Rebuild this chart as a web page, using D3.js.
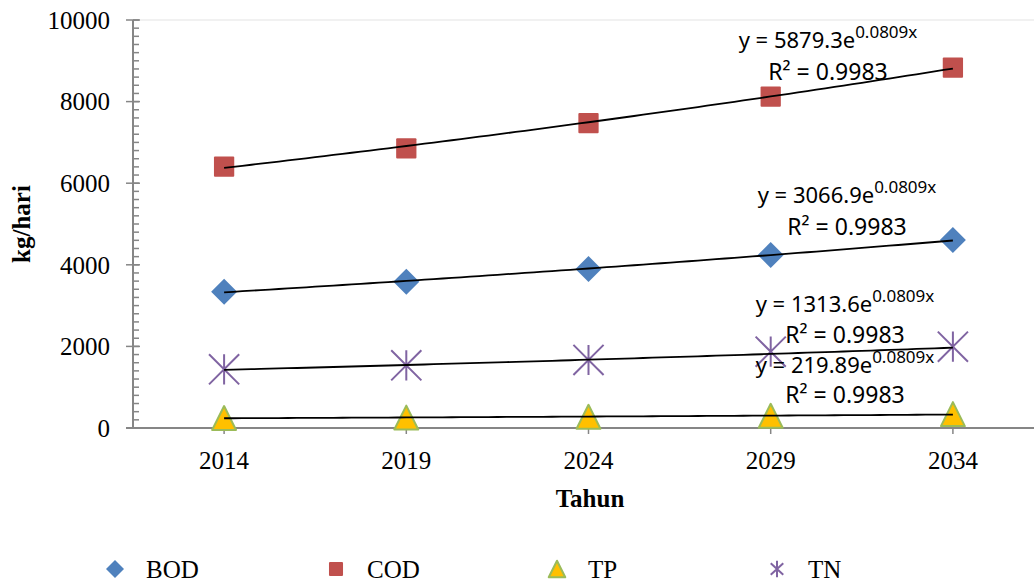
<!DOCTYPE html>
<html>
<head>
<meta charset="utf-8">
<script src="https://cdn.jsdelivr.net/npm/d3@7"></script>
<style>
  html, body { margin: 0; padding: 0; background: #fff; }
  svg { display: block; }
</style>
</head>
<body>
<svg id="chart" width="1034" height="582"></svg>
<script>
// Pollutant load projections (kg/hari) per year
const years = ["2014", "2019", "2024", "2029", "2034"];
const bod = [3341, 3586, 3897, 4240, 4608];
const cod = [6404, 6855, 7475, 8120, 8831];
const tp  = [245, 255, 275, 300, 340];
const tn  = [1438, 1536, 1667, 1871, 1993];

// Exponential trend coefficients: y = a * e^(b x), x = 1..5
const trendA = { BOD: 3066.9, COD: 5879.3, TP: 219.89, TN: 1313.6 };
const trendB = 0.0809;
const rSquared = "0.9983";

const yTicks = [0, 2000, 4000, 6000, 8000, 10000];

const series = [
  { name: "BOD", values: bod, shape: "diamond", fill: "#4F81BD" },
  { name: "COD", values: cod, shape: "square", fill: "#C0504D" },
  { name: "TP",  values: tp,  shape: "triangle", fill: "#FFC000", stroke: "#9BBB59" },
  { name: "TN",  values: tn,  shape: "asterisk", stroke: "#8064A2" }
];

// Where each trend equation is printed (centre x, baselines of the two lines)
const labelLayout = {
  COD: { cx: 828, y1: 48,  y2: 80 },
  BOD: { cx: 847, y1: 203, y2: 235 },
  TN:  { cx: 845, y1: 312, y2: 343 },
  TP:  { cx: 845, y1: 373, y2: 403 }
};

const svg = d3.select("#chart");
const plotLeft = 133, plotRight = 1044, plotTop = 20, plotBottom = 428;
const axisColor = "#868686";

const x = d3.scalePoint().domain(years).range([plotLeft, plotRight]).padding(0.5);
const xIdx = d3.scaleLinear().domain([1, years.length]).range([x(years[0]), x(years[years.length - 1])]);
const y = d3.scaleLinear().domain([0, 10000]).range([plotBottom, plotTop]);

// plot-area top edge
svg.append("line").attr("x1", plotLeft).attr("x2", 1034).attr("y1", plotTop).attr("y2", plotTop)
  .attr("stroke", "#ececec").attr("stroke-width", 1.5);

// Y axis: major ticks with labels, minor ticks every 200
const yAxisG = svg.append("g");
yAxisG.selectAll("line.minor").data(d3.range(0, 10001, 200)).join("line")
  .attr("class", "minor")
  .attr("x1", plotLeft).attr("x2", plotLeft + 6)
  .attr("y1", d => y(d)).attr("y2", d => y(d))
  .attr("stroke", axisColor).attr("stroke-width", 1.5);
yAxisG.selectAll("line.major").data(yTicks).join("line")
  .attr("class", "major")
  .attr("x1", plotLeft - 7).attr("x2", plotLeft + 7)
  .attr("y1", d => y(d)).attr("y2", d => y(d))
  .attr("stroke", axisColor).attr("stroke-width", 1.5);
yAxisG.append("line").attr("x1", plotLeft).attr("x2", plotLeft).attr("y1", plotTop).attr("y2", plotBottom)
  .attr("stroke", axisColor).attr("stroke-width", 2);
yAxisG.selectAll("text").data(yTicks).join("text")
  .attr("x", 110).attr("y", d => y(d)).attr("dy", "0.35em")
  .attr("text-anchor", "end")
  .attr("font-family", "'Liberation Serif', 'Times New Roman', serif")
  .attr("font-size", 25).attr("fill", "#000")
  .text(d => d);

// X axis
const xAxisG = svg.append("g");
xAxisG.append("line").attr("x1", plotLeft - 7).attr("x2", 1034).attr("y1", plotBottom).attr("y2", plotBottom)
  .attr("stroke", axisColor).attr("stroke-width", 2);
xAxisG.selectAll("line.tick").data(years).join("line")
  .attr("class", "tick")
  .attr("x1", d => x(d)).attr("x2", d => x(d))
  .attr("y1", plotBottom).attr("y2", plotBottom + 6)
  .attr("stroke", axisColor).attr("stroke-width", 1.5);
xAxisG.selectAll("text").data(years).join("text")
  .attr("x", d => x(d)).attr("y", 469)
  .attr("text-anchor", "middle")
  .attr("font-family", "'Liberation Serif', 'Times New Roman', serif")
  .attr("font-size", 25).attr("fill", "#000")
  .text(d => d);

// Axis titles
svg.append("text").attr("x", 590).attr("y", 507)
  .attr("text-anchor", "middle")
  .attr("font-family", "'Liberation Serif', 'Times New Roman', serif")
  .attr("font-weight", "bold").attr("font-size", 25)
  .text("Tahun");
svg.append("text")
  .attr("transform", "translate(30,224) rotate(-90)")
  .attr("text-anchor", "middle")
  .attr("font-family", "'Liberation Serif', 'Times New Roman', serif")
  .attr("font-weight", "bold").attr("font-size", 25)
  .text("kg/hari");

// Marker drawing
function drawMarker(g, s, cx, cy, size, narrow) {
  const h = size / 2;
  if (s.shape === "diamond") {
    g.append("path")
      .attr("d", `M${cx},${cy - h}L${cx + h},${cy}L${cx},${cy + h}L${cx - h},${cy}Z`)
      .attr("fill", s.fill);
  } else if (s.shape === "square") {
    const w = size * 0.78;
    g.append("rect").attr("x", cx - w / 2).attr("y", cy - w / 2)
      .attr("width", w).attr("height", w).attr("rx", 1)
      .attr("fill", s.fill);
  } else if (s.shape === "triangle") {
    const t = size * 0.92 / 2;
    g.append("path")
      .attr("d", `M${cx},${cy - t}L${cx + t},${cy + t}L${cx - t},${cy + t}Z`)
      .attr("fill", s.fill).attr("stroke", s.stroke).attr("stroke-width", 2)
      .attr("stroke-linejoin", "round");
  } else if (s.shape === "asterisk") {
    const a = size * 0.58;
    const ax = narrow ? a * 0.6 : a;
    const ay = narrow ? a * 0.55 : a;
    g.append("path")
      .attr("d", `M${cx - ax},${cy - ay}L${cx + ax},${cy + ay}M${cx + ax},${cy - ay}L${cx - ax},${cy + ay}M${cx},${cy - a * (narrow ? 0.8 : 1)}L${cx},${cy + a * (narrow ? 0.8 : 1)}`)
      .attr("fill", "none").attr("stroke", s.stroke).attr("stroke-width", 2);
  }
}

const markersG = svg.append("g");
series.forEach(s => {
  s.values.forEach((v, i) => {
    drawMarker(markersG, s, x(years[i]), y(v), 26, false);
  });
});

// Exponential trendlines
const trendG = svg.append("g");
const line = d3.line().x(d => xIdx(d[0])).y(d => y(d[1]));
series.forEach(s => {
  const a = trendA[s.name];
  const pts = d3.range(1, years.length + 0.001, 0.05).map(t => [t, a * Math.exp(trendB * t)]);
  trendG.append("path").datum(pts)
    .attr("d", line)
    .attr("fill", "none").attr("stroke", "#000").attr("stroke-width", 1.8);
});

// Trend equations
const eqFont = "'Noto Sans', 'Open Sans', sans-serif";
series.forEach(s => {
  const L = labelLayout[s.name];
  const t1 = svg.append("text").attr("x", L.cx).attr("y", L.y1)
    .attr("text-anchor", "middle")
    .attr("font-family", eqFont).attr("font-size", 22).attr("fill", "#000");
  t1.append("tspan").text(`y = ${trendA[s.name]}e`);
  t1.append("tspan").attr("dy", -10).attr("font-size", 17).text(`${trendB}x`);
  svg.append("text").attr("x", L.cx).attr("y", L.y2)
    .attr("text-anchor", "middle")
    .attr("font-family", eqFont).attr("font-size", 23).attr("fill", "#000")
    .text(`R² = ${rSquared}`);
});

// Legend
const legendX = [115, 336, 557, 777];
const legendG = svg.append("g");
series.forEach((s, i) => {
  drawMarker(legendG, s, legendX[i], 569, 18, true);
  legendG.append("text").attr("x", legendX[i] + 31).attr("y", 578)
    .attr("font-family", "'Liberation Serif', 'Times New Roman', serif")
    .attr("font-size", 25).attr("fill", "#000")
    .text(s.name);
});
</script>
</body>
</html>
